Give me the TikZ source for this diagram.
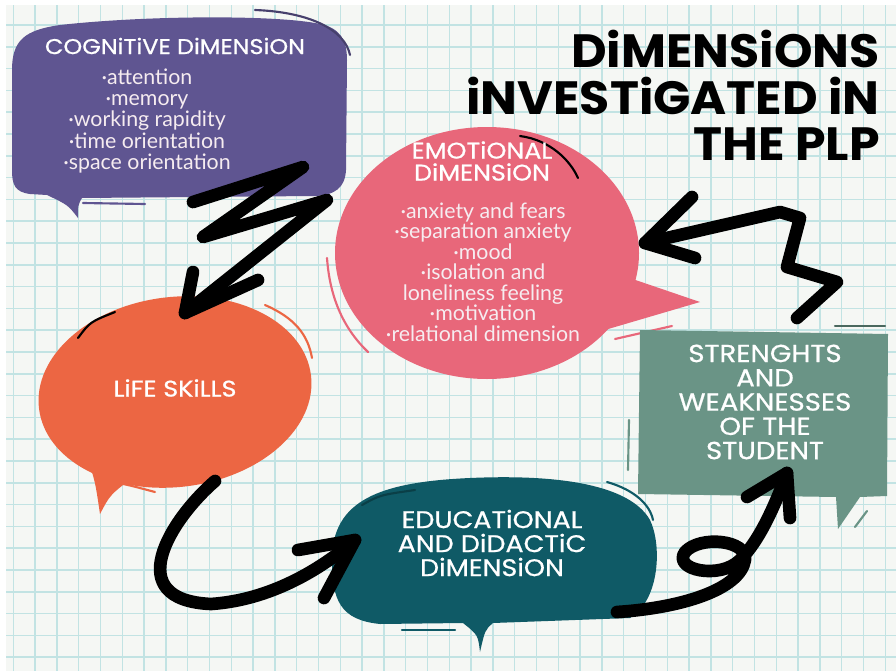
\documentclass[tikz,border=0pt]{standalone}
\usepackage{fontspec}
\setmainfont{Lato}
\newfontfamily\capsfont[FakeStretch=1.12, FakeBold=0.8]{Poppins}
\newfontfamily\titlefont[FakeStretch=1.05]{Poppins}
\usepackage{tikz}
\usetikzlibrary{positioning}

\definecolor{paper}{HTML}{F5F7F4}
\definecolor{gridline}{HTML}{C2E3E3}
\definecolor{cogviolet}{HTML}{5F5591}
\definecolor{emopink}{HTML}{E8677A}
\definecolor{lifeorange}{HTML}{EC6643}
\definecolor{eduteal}{HTML}{0F5A66}
\definecolor{strsage}{HTML}{6A9486}
\definecolor{itemtext}{HTML}{F6ECF0}

\begin{document}
\begin{tikzpicture}[x=0.75pt, y=-0.75pt,
	head/.style={font=\capsfont\fontsize{17}{16.5}\selectfont, text=white, align=center, inner sep=0pt},
	items/.style={font=\fontsize{16}{15.9}\selectfont, text=itemtext, align=center, inner sep=0pt},
	brush/.style={line width=9.5pt, line cap=round, line join=round, black},
	trim/.style={line width=1.6pt, line cap=round}]
	\useasboundingbox (0,0) rectangle (896,671);
	\fill[white] (0,0) rectangle (896,671);
	\fill[paper] (6,5) rectangle (896,671);
	% squared paper
	\foreach \i in {0,...,40}
		\draw[gridline, line width=1.1pt] ({13.3+21.8*\i},5) -- ({13.3+21.8*\i},671);
	\foreach \j in {1,...,30}
		\draw[gridline, line width=1.1pt] (6,{3.2+21.8*\j}) -- (896,{3.2+21.8*\j});

	% bubbles
	\fill[cogviolet] (12,70) .. controls (12,40) and (25,30) .. (60,25)
		.. controls (150,15) and (280,15) .. (320,24)
		.. controls (340,28) and (347,40) .. (347,60) -- (346,170)
		.. controls (345,188) and (335,195) .. (315,196) -- (82,198)
		.. controls (78,205) .. (78,218) .. controls (68,205) .. (47,195) -- (30,194)
		.. controls (15,192) and (12,185) .. (12,170) -- cycle;
	\draw[trim, cogviolet!75!black] (255,10) .. controls (310,12) and (345,30) .. (350,55);
	\draw[trim, cogviolet] (83,203) -- (145,204);

	\fill[emopink] (487,253) ellipse [x radius=152, y radius=126];
	\fill[emopink] (612,272) -- (700,302) -- (598,332) -- cycle;
	\draw[trim, emopink] (327,258) .. controls (330,300) and (345,330) .. (368,352);
	\draw[trim, black] (520,136) .. controls (550,140) and (570,160) .. (578,178);
	\draw[trim, emopink] (615,339) -- (672,326);

	\fill[lifeorange] (175,392) ellipse [x radius=137, y radius=95, rotate=7];
	\fill[lifeorange] (85,452) .. controls (95,480) .. (100,514) .. controls (110,495) .. (132,478) -- cycle;
	\draw[trim, black] (78,338) .. controls (90,322) .. (115,312);
	\draw[trim, lifeorange] (265,305) .. controls (295,318) and (308,335) .. (312,358);
	\draw[trim, lifeorange] (100,480) .. controls (125,484) .. (155,492);

	\fill[eduteal] (332,560) .. controls (332,500) and (380,482) .. (470,478)
		.. controls (560,474) and (630,485) .. (650,520)
		.. controls (662,545) and (660,600) .. (630,618) -- (493,623)
		.. controls (485,630) .. (480,652) .. controls (478,635) .. (463,623) -- (380,624)
		.. controls (340,620) and (332,600) .. (332,560) -- cycle;
	\draw[trim, eduteal!70!black] (362,505) .. controls (380,495) .. (415,490);
	\draw[trim, eduteal] (607,482) .. controls (635,490) and (650,505) .. (653,520);
	\draw[trim, eduteal] (402,630) -- (455,630);

	\fill[strsage] (640,330) -- (888,334) -- (887,496) -- (860,497) -- (838,529)
		-- (836,497) -- (638,494) -- cycle;
	\draw[trim, strsage!70!black] (835,326) -- (885,326);
	\draw[trim, strsage] (629,420) -- (628,470);
	\draw[trim, strsage] (855,527) -- (867,511);

	% texts
	\node[inner sep=0pt, anchor=north east, align=right,
		font=\titlefont\bfseries\fontsize{35}{35}\selectfont] (title) at (880,30)
		{DiMENSiONS\\iNVESTiGATED iN\\THE PLP};
	\node[head, font=\capsfont\fontsize{16}{16.5}\selectfont] (cog) at (175,46) {COGNiTiVE DiMENSiON};
	\node[items] (coglist) at (147,121) {·attention\\·memory\\·working rapidity\\·time orientation\\·space orientation};
	\node[head] (emo) at (482,161) {EMOTiONAL\\DiMENSiON};
	\node[items, font=\fontsize{16}{15.4}\selectfont] (emolist) at (483,272) {·anxiety and fears\\·separation anxiety\\·mood\\·isolation and\\loneliness feeling\\·motivation\\·relational dimension};
	\node[head] (life) at (175,388) {LiFE SKiLLS};
	\node[head, font=\capsfont\fontsize{18}{18}\selectfont] (edu) at (492,543) {EDUCATiONAL\\AND DiDACTiC\\DiMENSiON};
	\node[head, font=\capsfont\fontsize{18.5}{18.2}\selectfont] (str) at (765,402) {STRENGHTS\\AND\\WEAKNESSES\\OF THE\\STUDENT};

	% connector ends
	\coordinate (cogOut) at (193,202);
	\coordinate (lifeIn) at (185,313);
	\coordinate (lifeOut) at (215,481);
	\coordinate (eduIn) at (355,540);
	\coordinate (eduOut) at (617,612);
	\coordinate (strIn) at (787,473);
	\coordinate (strOut) at (797,318);
	\coordinate (emoIn) at (645,243);

	% strokes
	\draw[brush] (cogOut) -- (303,167) -- (203,237) -- (327,200) -- (lifeIn);
	\draw[brush] (193,272) -- (lifeIn) -- (258,280);

	\draw[brush] (lifeOut) .. controls (170,520) and (120,600) .. (211,604)
		.. controls (270,600) and (320,570) .. (eduIn);
	\draw[brush] (298,550) -- (eduIn) -- (324,598);

	\draw[brush] (eduOut) .. controls (680,608) and (740,590) .. (745,560)
		.. controls (748,540) and (700,535) .. (685,552)
		.. controls (672,570) and (720,580) .. (740,560)
		.. controls (760,540) and (775,505) .. (strIn);
	\draw[brush] (747,497) -- (strIn) -- (790,518);

	\draw[brush] (strOut) -- (837,282) -- (787,267) -- (800,218) -- (780,212) -- (emoIn);
	\draw[brush] (692,197) -- (emoIn) -- (695,258);
\end{tikzpicture}
\end{document}
